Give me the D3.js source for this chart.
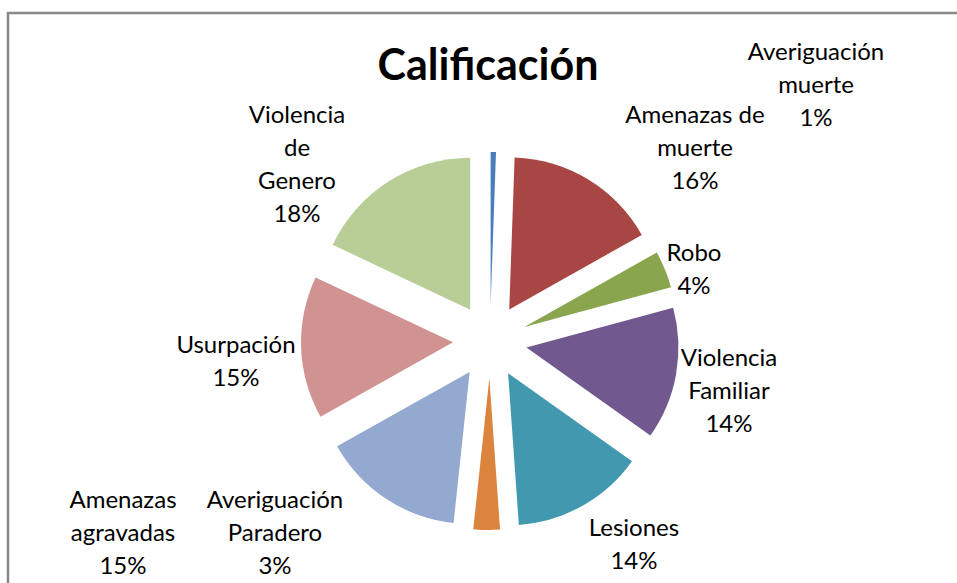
<!DOCTYPE html>
<html>
<head>
<meta charset="utf-8">
<script src="https://cdn.jsdelivr.net/npm/d3@7"></script>
<style>
  body { margin: 0; background: #fff; }
  svg text { font-family: Lato, "Open Sans", sans-serif; fill: #000; }
</style>
</head>
<body>
<div id="chart"></div>
<script>
// data, clockwise from 12 o'clock
const categories = [
  "Averiguación muerte", "Amenazas de muerte", "Robo", "Violencia Familiar",
  "Lesiones", "Averiguación Paradero", "Amenazas agravadas", "Usurpación",
  "Violencia de Genero"
];
const values = [1, 29, 7, 25, 25, 5, 27, 27, 32];
const colours = [
  "#4A7EBB", "#A84644", "#89A54E", "#71588F",
  "#4198AF", "#DB843D", "#93A9CF", "#D19392", "#B9CD96"
];
// label lines and anchor (centre x, first baseline y)
const labelLines = [
  ["Averiguación", "muerte"],
  ["Amenazas de", "muerte"],
  ["Robo"],
  ["Violencia", "Familiar"],
  ["Lesiones"],
  ["Averiguación", "Paradero"],
  ["Amenazas", "agravadas"],
  ["Usurpación"],
  ["Violencia", "de", "Genero"]
];
const labelPos = [
  [816, 60], [695, 123], [694, 261], [729, 366],
  [634, 536], [275, 508], [123, 508], [236, 353], [297, 123]
];

const width = 957, height = 583;
const cx = 490, cy = 341, radius = 152, explode = 37;
const lineH = 33;

const svg = d3.select("#chart")
  .append("svg")
  .attr("width", width)
  .attr("height", height);

// chart frame (only top and left edges visible)
svg.append("path")
  .attr("d", `M8,${height + 5} L8,13 L${width + 5},13`)
  .attr("fill", "none")
  .attr("stroke", "#888")
  .attr("stroke-width", 2.5);

svg.append("text")
  .attr("x", 488)
  .attr("y", 80)
  .attr("text-anchor", "middle")
  .style("font-size", "43px")
  .style("font-weight", "bold")
  .text("Calificación");

const total = d3.sum(values);
const pct = d3.format(".0%");

const pie = d3.pie().sort(null).value(d => d)(values);
const arc = d3.arc().innerRadius(0).outerRadius(radius);

const g = svg.append("g").attr("transform", `translate(${cx},${cy})`);

g.selectAll(".slice")
  .data(pie)
  .join("path")
  .attr("class", "slice")
  .attr("d", arc)
  .attr("fill", (d, i) => colours[i])
  .attr("transform", d => {
    const a = (d.startAngle + d.endAngle) / 2;
    return `translate(${explode * Math.sin(a)},${-explode * Math.cos(a)})`;
  });

const labels = svg.selectAll(".label")
  .data(pie)
  .join("text")
  .attr("class", "label")
  .attr("text-anchor", "middle")
  .style("font-size", "24px");

labels.each(function (d, i) {
  const t = d3.select(this);
  const lines = labelLines[i].concat([pct(d.value / total)]);
  lines.forEach((s, k) => {
    t.append("tspan")
      .attr("x", labelPos[i][0])
      .attr("y", labelPos[i][1] + k * lineH)
      .text(s);
  });
});
</script>
</body>
</html>
